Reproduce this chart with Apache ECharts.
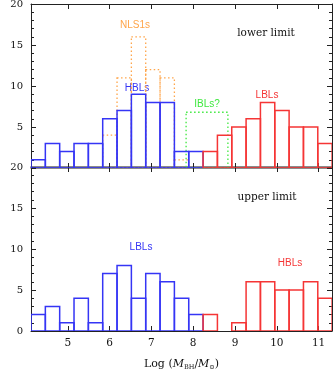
<!DOCTYPE html>
<html>
<head>
<meta charset="utf-8">
<script src="https://cdn.jsdelivr.net/npm/echarts@6/dist/echarts.min.js"></script>
<style>
  html, body { margin: 0; padding: 0; background: #fff; }
  #main { width: 334px; height: 369px; }
</style>
</head>
<body>
<div id="main"></div>
<script>
// histogram bins (log M_BH), same for both panels
const binStart = 4.12;
const binWidth = 0.343;

// upper panel: lower limit
const hblLower  = [1, 3, 2, 3, 3, 6, 7, 9, 8, 8, 2, 2];          // bins 0..11
const lblLower  = [2, 4, 5, 6, 8, 7, 5, 5, 3];                    // bins 12..20
const nls1Lower = [4, 11, 16, 12, 11, 1];                         // bins 5..10
const iblLower  = [[7.83, 8.83, 6.8]];                            // one wide box

// lower panel: upper limit
const lblUpper = [2, 3, 1, 4, 1, 7, 8, 4, 7, 6, 4, 2];            // bins 0..11
const hblUpper = [2, 0, 1, 6, 6, 5, 5, 6, 4];                     // bins 12..20

const BLUE = '#3535f5', RED = '#f53535', ORANGE = '#ffa54a', GREEN = '#3ee83e';

function toBins(counts, first) {
    const out = [];
    counts.forEach(function (n, i) {
        if (!n) return;
        const lo = binStart + (first + i) * binWidth;
        out.push([lo, lo + binWidth, n]);
    });
    return out;
}

function histSeries(data, idx, color, dotted) {
    return {
        type: 'custom',
        xAxisIndex: idx * 2,
        yAxisIndex: idx * 2,
        clip: true,
        encode: { x: [0, 1], y: 2 },
        data: data,
        renderItem: function (params, api) {
            const p0 = api.coord([api.value(0), api.value(2)]);
            const p1 = api.coord([api.value(1), 0]);
            return {
                type: 'rect',
                shape: { x: p0[0], y: p0[1], width: p1[0] - p0[0], height: p1[1] - p0[1] },
                style: {
                    fill: 'none',
                    stroke: color,
                    lineWidth: dotted ? 1.3 : 1.5,
                    lineDash: dotted ? [1.5, 2.5] : null
                }
            };
        }
    };
}

const chart = echarts.init(document.getElementById('main'));

const serif = 'DejaVu Serif';
const tickStyle = { inside: true, length: 5, lineStyle: { color: '#222' } };

function xAx(grid, pos, showLabel, lineColor) {
    return {
        type: 'value', gridIndex: grid, position: pos,
        min: 4.12, max: 11.32, minInterval: 1, maxInterval: 1,
        axisLine: { show: true, onZero: false, lineStyle: { color: lineColor, width: lineColor === '#666' ? 1.6 : 1 } },
        axisTick: tickStyle,
        splitLine: { show: false },
        axisLabel: {
            show: showLabel, showMinLabel: false, showMaxLabel: false,
            fontFamily: serif, fontSize: 10.5, color: '#111', margin: 7
        }
    };
}

function yAx(grid, pos, showLabel, hideZero) {
    return {
        type: 'value', gridIndex: grid, position: pos,
        min: 0, max: 20, interval: 5,
        axisLine: { show: true, lineStyle: { color: '#222' } },
        axisTick: tickStyle,
        minorTick: { show: true, splitNumber: 5, length: 3, lineStyle: { color: '#222' } },
        splitLine: { show: false },
        axisLabel: {
            show: showLabel, fontFamily: serif, fontSize: 10, color: '#111', margin: 8,
            formatter: function (v) { return (hideZero && v === 0) ? '' : String(v); }
        },
        name: showLabel ? 'N' : '',
        nameLocation: 'middle', nameGap: 20, nameRotate: 90,
        nameTextStyle: { fontFamily: serif, fontStyle: 'italic', fontSize: 10, color: '#111' }
    };
}

const xAxes = [
    xAx(0, 'bottom', false, '#666'),
    xAx(0, 'top', false, '#222'),
    xAx(1, 'bottom', true, '#222'),
    xAx(1, 'top', false, '#666')
];
xAxes[2].name = 'Log ({i|M}{s|BH}/{i|M}{s|⊙})';
xAxes[2].nameLocation = 'middle';
xAxes[2].nameGap = 27;
xAxes[2].nameTextStyle = {
    fontFamily: serif, fontSize: 11, color: '#111',
    rich: {
        i: { fontFamily: serif, fontStyle: 'italic', fontSize: 11, color: '#111' },
        s: { fontFamily: serif, fontSize: 6.5, color: '#111', verticalAlign: 'bottom', padding: [6, 0, 0, 0] }
    }
};

function label(text, x, y, color, font) {
    return {
        type: 'text', x: x, y: y,
        style: {
            text: text, fill: color, align: 'center', verticalAlign: 'middle',
            font: font || '10px "Liberation Sans"'
        }
    };
}

chart.setOption({
    animation: false,
    backgroundColor: '#fff',
    grid: [
        { left: 31, right: 2, top: 4, height: 164, containLabel: false, outerBoundsMode: 'none' },
        { left: 31, right: 2, top: 167, height: 164, containLabel: false, outerBoundsMode: 'none' }
    ],
    xAxis: xAxes,
    yAxis: [
        yAx(0, 'left', true, true),
        yAx(0, 'right', false, false),
        yAx(1, 'left', true, false),
        yAx(1, 'right', false, false)
    ],
    graphic: [
        label('lower limit', 266, 33, '#111', '10.5px "DejaVu Serif"'),
        label('upper limit', 267, 197, '#111', '10.5px "DejaVu Serif"'),
        label('NLS1s', 135, 25, ORANGE),
        label('HBLs', 137, 88, BLUE),
        label('IBLs?', 207, 104, GREEN),
        label('LBLs', 267, 95, RED),
        label('LBLs', 141, 247, BLUE),
        label('HBLs', 290, 263, RED)
    ],
    series: [
        histSeries(toBins(nls1Lower, 5), 0, ORANGE, true),
        histSeries(iblLower, 0, GREEN, true),
        histSeries(toBins(hblLower, 0), 0, BLUE, false),
        histSeries(toBins(lblLower, 12), 0, RED, false),
        histSeries(toBins(lblUpper, 0), 1, BLUE, false),
        histSeries(toBins(hblUpper, 12), 1, RED, false)
    ]
});
</script>
</body>
</html>
